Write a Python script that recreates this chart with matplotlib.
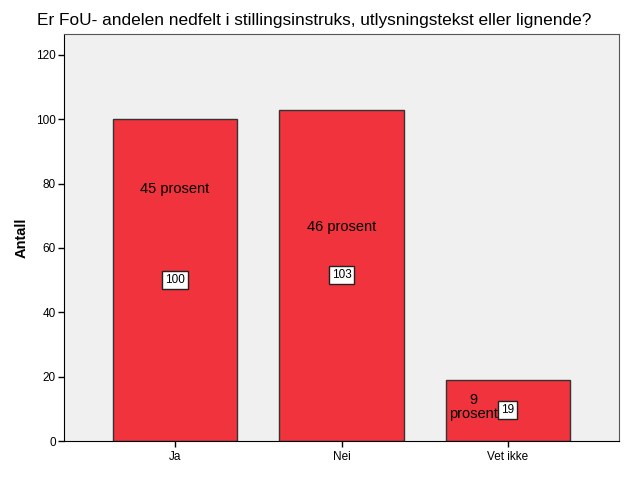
import matplotlib
matplotlib.use('Agg')
from matplotlib import pyplot as plt

categories = ['Ja', 'Nei', 'Vet ikke']
counts = [100, 103, 19]
percents = ['45 prosent', '46 prosent', '9\nprosent']
# where SPSS put the percent labels (x offset, y in data units)
pct_x = [0, 1, 1.79]
pct_y = [78.4, 66.6, 10.6]

plt.rcParams['font.family'] = ['Liberation Sans', 'DejaVu Sans']

fig = plt.figure(figsize=(6.26, 5.01), dpi=100)
ax = fig.add_axes([64/626, 60/501, 555/626, 407/501])
ax.set_facecolor('#F0F0F0')

x = list(range(len(categories)))
ax.bar(x, counts, width=0.745, color='#F0333C', edgecolor='#333333', linewidth=1, zorder=2)

for i in x:
    ax.text(pct_x[i], pct_y[i], percents[i], ha='center', va='center', fontsize=10.5,
            linespacing=1.0, zorder=3)
    ax.text(i, counts[i] / 2, str(counts[i]), ha='center', va='center', fontsize=8.5,
            bbox=dict(boxstyle='square,pad=0.25', fc='white', ec='#222222', lw=1), zorder=4)

ax.set_xlim(-0.667, 2.667)
ax.set_ylim(0, 126.5)
ax.set_yticks(range(0, 121, 20))
ax.set_xticks(x)
ax.set_xticklabels(categories, fontsize=8.5)
ax.tick_params(axis='y', labelsize=8.5, length=4, width=1, pad=2)
ax.tick_params(axis='x', length=4, width=1, pad=3)
ax.set_ylabel('Antall', fontsize=10.5, fontweight='bold', labelpad=5)
for s in ['top', 'right']:
    ax.spines[s].set_color('#555555')

fig.text(37/626, 1 - 21/501, 'Er FoU- andelen nedfelt i stillingsinstruks, utlysningstekst eller lignende?',
         fontsize=12.4, va='center', ha='left')

plt.savefig('out.png', dpi=100)
